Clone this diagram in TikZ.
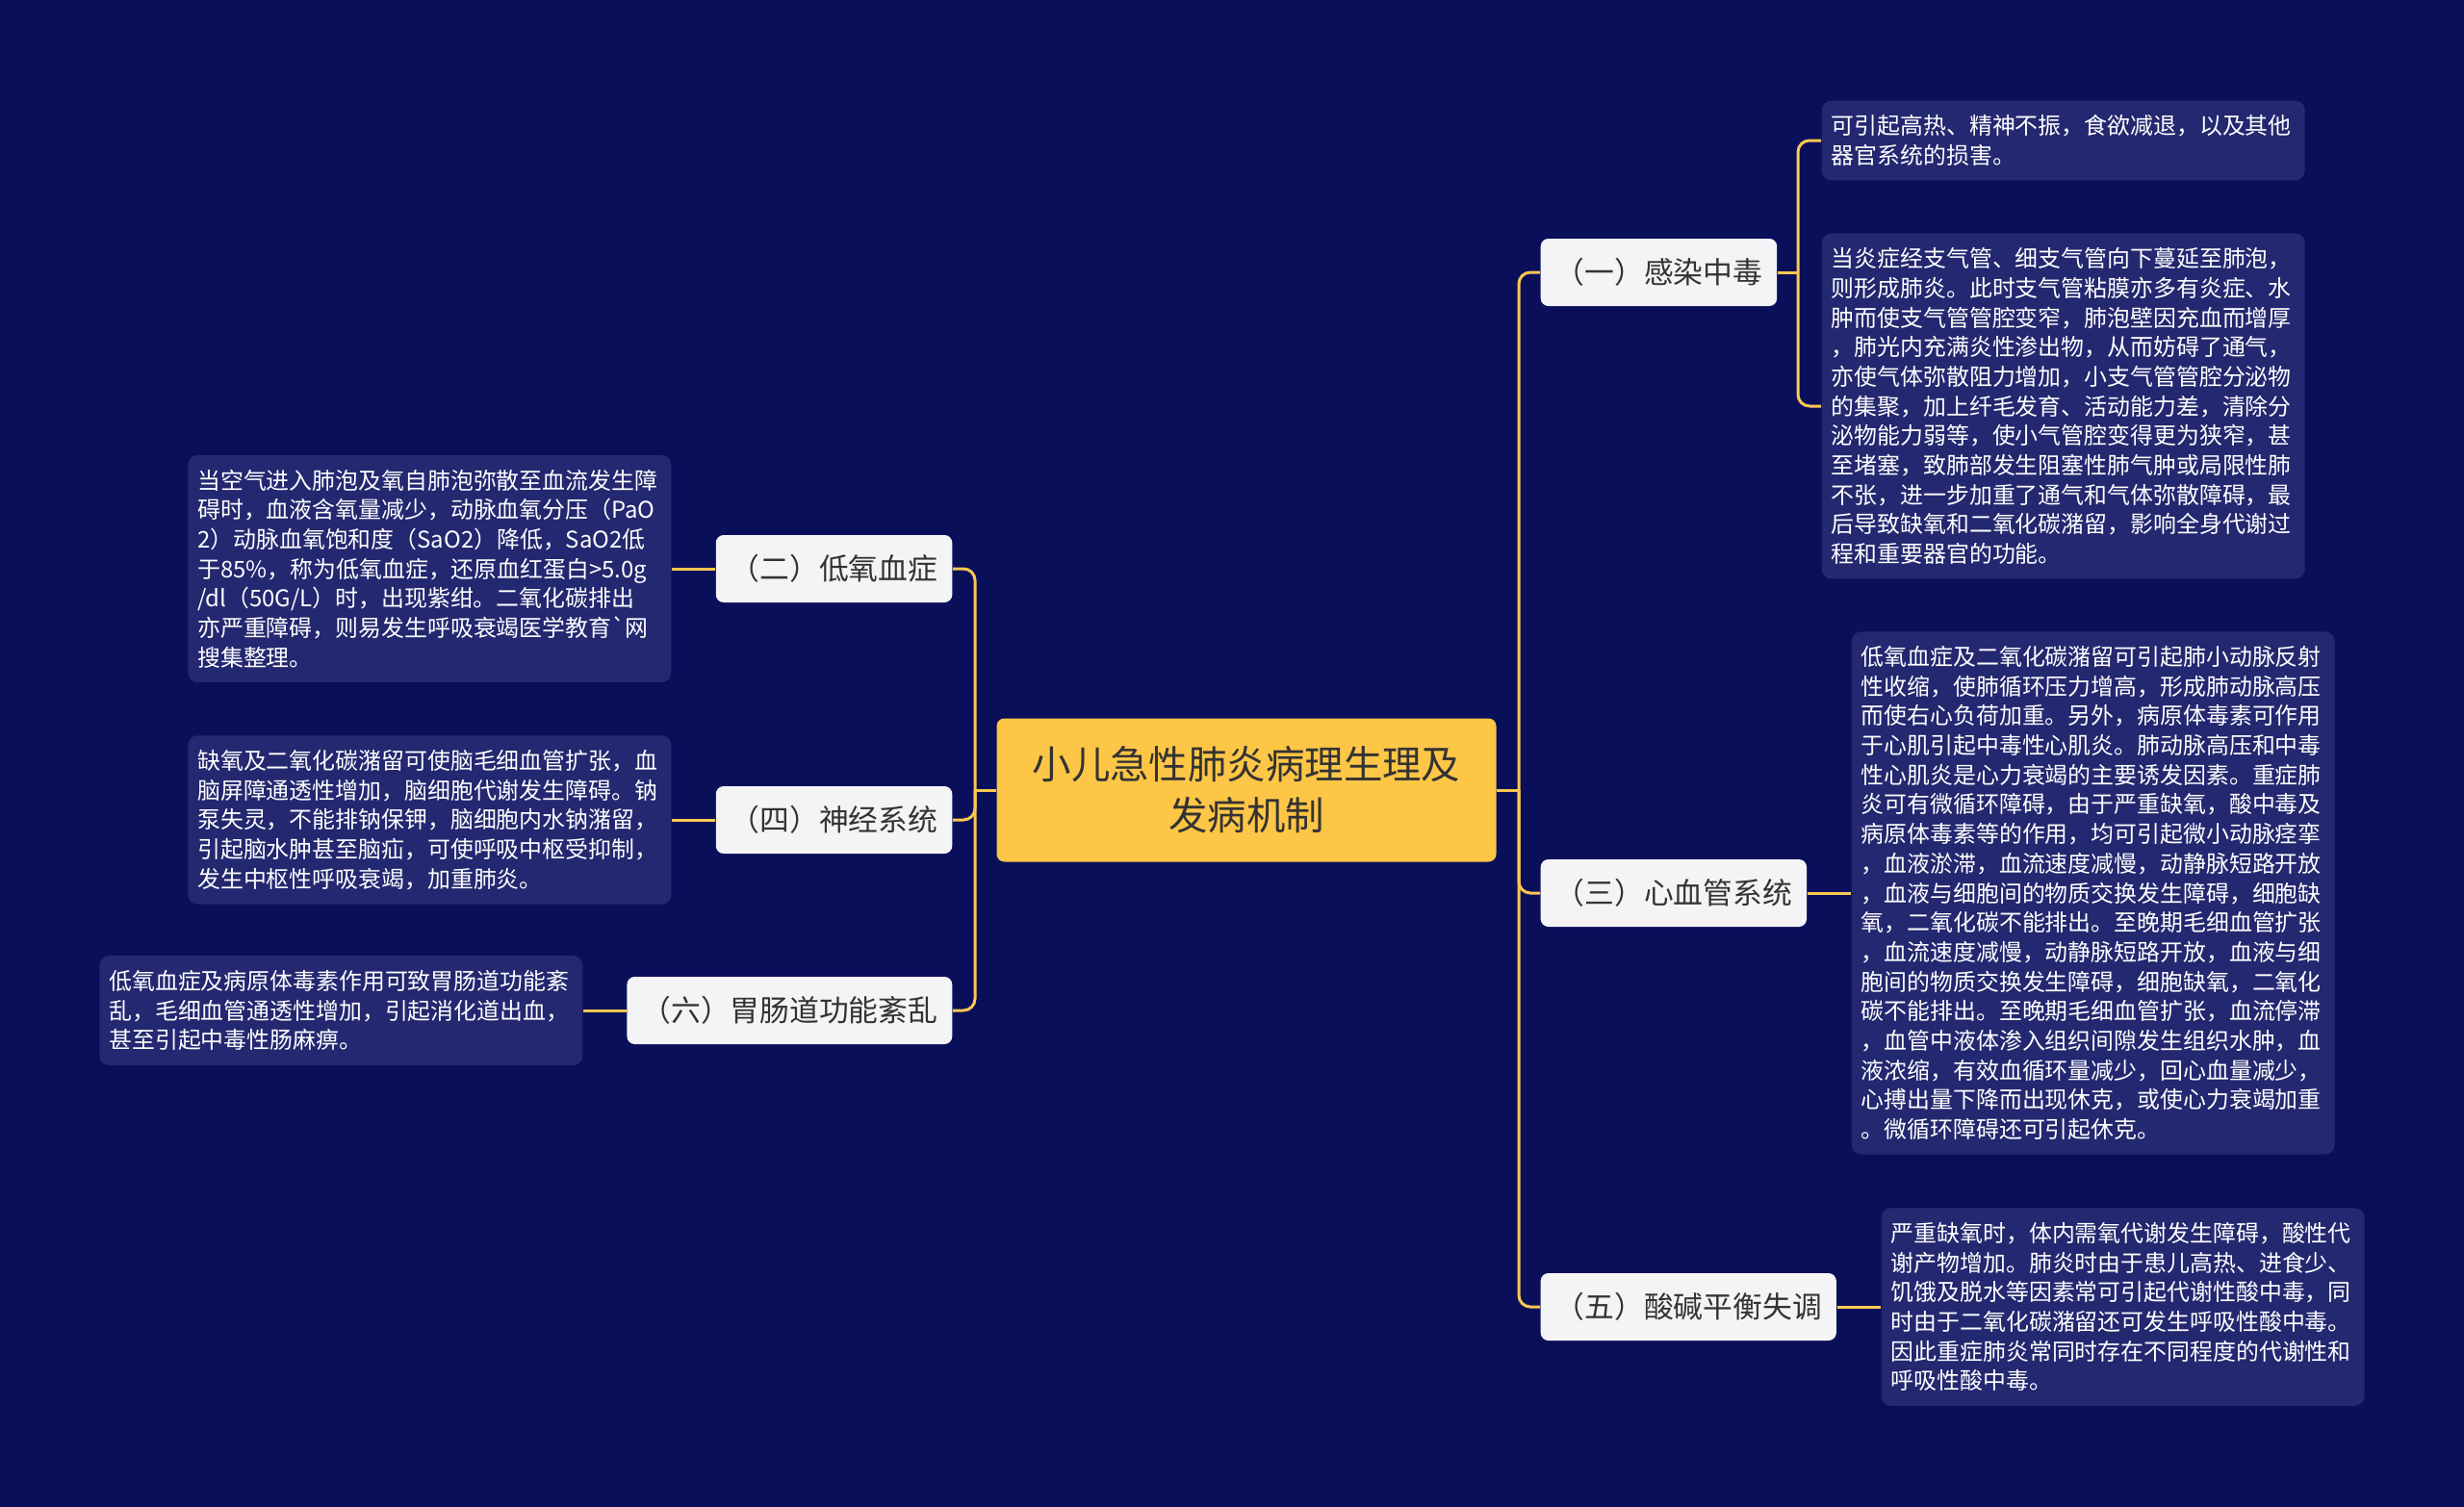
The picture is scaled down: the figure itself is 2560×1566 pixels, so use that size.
\documentclass[tikz,border=0pt]{standalone}
\usepackage{fontspec}
\newfontfamily\cjkfont{Noto Sans CJK SC}
\usepackage{xcolor}
\usepackage{tikz}

\definecolor{bgnavy}{RGB}{10,15,90}
\definecolor{leafblue}{RGB}{35,40,112}
\definecolor{linkgold}{RGB}{250,200,80}
\definecolor{rootgold}{RGB}{253,198,70}
\definecolor{branchgray}{RGB}{244,244,246}
\definecolor{inkgray}{RGB}{51,51,51}

\tikzset{
  rootbox/.style={fill=rootgold,rounded corners=0.8mm,minimum width=51.9mm,minimum height=14.9mm,align=center,text=inkgray,font=\cjkfont\fontsize{11.5pt}{15.1pt}\selectfont},
  branchbox/.style={fill=branchgray,rounded corners=0.8mm,minimum height=7mm,inner xsep=1.5mm,text=inkgray,font=\cjkfont\fontsize{8.76pt}{10pt}\selectfont},
  leafbox/.style={fill=leafblue,rounded corners=1mm,text width=48.2mm,inner xsep=1mm,inner ysep=1.5mm,align=left,text=white,font=\cjkfont\fontsize{6.8pt}{8.73pt}\selectfont},
  link/.style={draw=linkgold,line width=0.3mm,rounded corners=1.2mm}
}

\begin{document}
\begin{tikzpicture}[x=0.1mm,y=-0.1mm]
\fill[bgnavy](0,0)rectangle(2560,1566);

% centre
\node[rootbox](root)at(1295,821){小儿急性肺炎病理生理及\\发病机制};
\coordinate(jL)at(1013,821);
\coordinate(jR)at(1578,821);

% left side
\node[branchbox,anchor=east](b2)at(990,591){（二）低氧血症};
\node[branchbox,anchor=east](b4)at(990,852){（四）神经系统};
\node[branchbox,anchor=east](b6)at(990,1050){（六）胃肠道功能紊乱};

\node[leafbox,anchor=east](l2)at(698,591){当空气进入肺泡及氧自肺泡弥散至血流发生障\\碍时，血液含氧量减少，动脉血氧分压（PaO\\2）动脉血氧饱和度（SaO2）降低，SaO2低\\于85\%，称为低氧血症，还原血红蛋白>5.0g\\/dl（50G/L）时，出现紫绀。二氧化碳排出\\亦严重障碍，则易发生呼吸衰竭医学教育`网\\搜集整理。};
\node[leafbox,anchor=east](l4)at(698,852){缺氧及二氧化碳潴留可使脑毛细血管扩张，血\\脑屏障通透性增加，脑细胞代谢发生障碍。钠\\泵失灵，不能排钠保钾，脑细胞内水钠潴留，\\引起脑水肿甚至脑疝，可使呼吸中枢受抑制，\\发生中枢性呼吸衰竭，加重肺炎。};
\node[leafbox,anchor=east](l6)at(606,1050){低氧血症及病原体毒素作用可致胃肠道功能紊\\乱，毛细血管通透性增加，引起消化道出血，\\甚至引起中毒性肠麻痹。};

% right side
\node[branchbox,anchor=west](b1)at(1600,283){（一）感染中毒};
\node[branchbox,anchor=west](b3)at(1600,928){（三）心血管系统};
\node[branchbox,anchor=west](b5)at(1600,1358){（五）酸碱平衡失调};
\coordinate(j1)at(1868,283);

\node[leafbox,anchor=west](l1a)at(1892,146){可引起高热、精神不振，食欲减退，以及其他\\器官系统的损害。};
\node[leafbox,anchor=west](l1b)at(1892,422){当炎症经支气管、细支气管向下蔓延至肺泡，\\则形成肺炎。此时支气管粘膜亦多有炎症、水\\肿而使支气管管腔变窄，肺泡壁因充血而增厚\\，肺光内充满炎性渗出物，从而妨碍了通气，\\亦使气体弥散阻力增加，小支气管管腔分泌物\\的集聚，加上纤毛发育、活动能力差，清除分\\泌物能力弱等，使小气管腔变得更为狭窄，甚\\至堵塞，致肺部发生阻塞性肺气肿或局限性肺\\不张，进一步加重了通气和气体弥散障碍，最\\后导致缺氧和二氧化碳潴留，影响全身代谢过\\程和重要器官的功能。};
\node[leafbox,anchor=west](l3)at(1923,928){低氧血症及二氧化碳潴留可引起肺小动脉反射\\性收缩，使肺循环压力增高，形成肺动脉高压\\而使右心负荷加重。另外，病原体毒素可作用\\于心肌引起中毒性心肌炎。肺动脉高压和中毒\\性心肌炎是心力衰竭的主要诱发因素。重症肺\\炎可有微循环障碍，由于严重缺氧，酸中毒及\\病原体毒素等的作用，均可引起微小动脉痉挛\\，血液淤滞，血流速度减慢，动静脉短路开放\\，血液与细胞间的物质交换发生障碍，细胞缺\\氧，二氧化碳不能排出。至晚期毛细血管扩张\\，血流速度减慢，动静脉短路开放，血液与细\\胞间的物质交换发生障碍，细胞缺氧，二氧化\\碳不能排出。至晚期毛细血管扩张，血流停滞\\，血管中液体渗入组织间隙发生组织水肿，血\\液浓缩，有效血循环量减少，回心血量减少，\\心搏出量下降而出现休克，或使心力衰竭加重\\。微循环障碍还可引起休克。};
\node[leafbox,anchor=west](l5)at(1954,1358){严重缺氧时，体内需氧代谢发生障碍，酸性代\\谢产物增加。肺炎时由于患儿高热、进食少、\\饥饿及脱水等因素常可引起代谢性酸中毒，同\\时由于二氧化碳潴留还可发生呼吸性酸中毒。\\因此重症肺炎常同时存在不同程度的代谢性和\\呼吸性酸中毒。};

% connectors
\draw[link](root.west)--(jL);
\draw[link](jL)|-(b2.east);
\draw[link](jL)|-(b4.east);
\draw[link](jL)|-(b6.east);
\draw[link](b2.west)--(l2.east);
\draw[link](b4.west)--(l4.east);
\draw[link](b6.west)--(l6.east);

\draw[link](root.east)--(jR);
\draw[link](jR)|-(b1.west);
\draw[link](jR)|-(b3.west);
\draw[link](jR)|-(b5.west);
\draw[link](b1.east)--(j1);
\draw[link](j1)|-(l1a.west);
\draw[link](j1)|-(l1b.west);
\draw[link](b3.east)--(l3.west);
\draw[link](b5.east)--(l5.west);

\end{tikzpicture}
\end{document}
